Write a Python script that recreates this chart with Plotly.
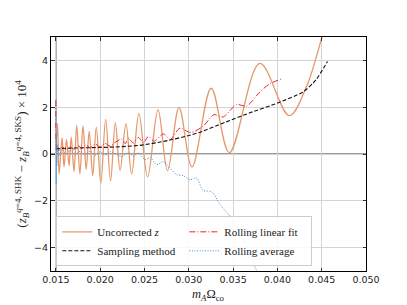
import plotly.graph_objects as go

# ---------------- data ----------------
# Uncorrected z (extrema of the oscillation + tail)
unc_x = [0.01500, 0.01519, 0.01536, 0.01570, 0.01592, 0.01620, 0.01649, 0.01673,
         0.01705, 0.01735, 0.01771, 0.01806, 0.01842, 0.01876, 0.01916, 0.01956,
         0.02007, 0.02062, 0.02117, 0.02171, 0.02225, 0.02291, 0.02355, 0.02437,
         0.02535, 0.02653, 0.02760, 0.02890, 0.03036, 0.03253, 0.03458, 0.03802,
         0.04134, 0.04328, 0.04440, 0.04503, 0.04556]
unc_y = [0.20, 1.30, -0.85, 0.70, -0.55, 0.62, -0.50, 0.72,
         -0.75, 1.22, -0.85, 1.20, -0.65, 0.97, -0.92, 1.15,
         -1.24, 1.48, -1.15, 1.34, -0.70, 1.30, -0.86, 1.74,
         -0.98, 1.89, -0.72, 1.99, -0.55, 2.81, 0.06, 3.87,
         1.64, 2.88, 4.16, 5.00, 5.70]

# Sampling method
samp_x = [0.01500, 0.01662, 0.01887, 0.02169, 0.02450, 0.02732, 0.02991, 0.03126,
          0.03407, 0.03689, 0.04004, 0.04286, 0.04400, 0.04442, 0.04566]
samp_y = [0.22, 0.25, 0.27, 0.30, 0.37, 0.55, 0.78, 0.93,
          1.35, 1.76, 2.18, 2.64, 3.02, 3.20, 3.95]

# Rolling linear fit
lin_x = [0.01500, 0.01508, 0.01527, 0.01572, 0.01617, 0.01662, 0.01707, 0.01752,
         0.01797, 0.01842, 0.01887, 0.01944, 0.02000, 0.02056, 0.02113, 0.02169,
         0.02244, 0.02282, 0.02319, 0.02375, 0.02431, 0.02488, 0.02544, 0.02611,
         0.02713, 0.02788, 0.02900, 0.03020, 0.03160, 0.03284, 0.03385, 0.03539,
         0.03652, 0.03802, 0.03914, 0.04057]
lin_y = [2.30, 0.30, 0.12, 0.30, 0.18, 0.30, 0.20, 0.35,
         0.24, 0.38, 0.27, 0.42, 0.30, 0.45, 0.33, 0.50,
         0.63, 0.45, 0.67, 0.47, 0.71, 0.48, 0.75, 0.55,
         0.86, 0.62, 1.10, 0.92, 1.18, 1.68, 1.58, 2.11,
         2.05, 2.65, 3.00, 3.22]

# Rolling average
avg_x = [0.01500, 0.01503, 0.01507, 0.01512, 0.01521, 0.01538, 0.01572, 0.01617,
         0.01662, 0.01718, 0.01775, 0.01831, 0.01887, 0.01944, 0.02000, 0.02056,
         0.02113, 0.02169, 0.02244, 0.02315, 0.02372, 0.02431, 0.02507, 0.02563,
         0.02638, 0.02713, 0.02769, 0.02864, 0.02935, 0.03014, 0.03089, 0.03160,
         0.03261, 0.03351, 0.03475, 0.03543, 0.03644, 0.03768, 0.03824]
avg_y = [2.20, -1.30, 0.90, -0.50, 0.40, -0.10, 0.20, 0.00,
         0.15, 0.00, 0.12, -0.05, 0.12, -0.05, 0.10, -0.05,
         0.10, 0.02, -0.10, 0.05, -0.08, 0.04, -0.24, -0.15,
         -0.46, -0.32, -0.53, -0.88, -0.92, -1.10, -1.03, -1.55,
         -1.62, -2.15, -2.72, -3.20, -3.90, -5.00, -5.40]

x_ticks = [0.015, 0.020, 0.025, 0.030, 0.035, 0.040, 0.045, 0.050]
x_tick_labels = ["0.015", "0.020", "0.025", "0.030", "0.035", "0.040", "0.045", "0.050"]
y_ticks = [-4, -2, 0, 2, 4]
y_tick_labels = ["\u22124", "\u22122", "0", "2", "4"]

# ---------------- figure ----------------
SERIF = "Liberation Serif"
SANS = "DejaVu Sans"

fig = go.Figure()
fig.add_trace(go.Scatter(x=unc_x, y=unc_y, mode="lines", name="Uncorrected <i>z</i>",
                         line=dict(color="#E6986C", width=1.3, shape="spline", smoothing=1.0),
                         legendrank=1))
fig.add_trace(go.Scatter(x=samp_x, y=samp_y, mode="lines", name="Sampling method",
                         line=dict(color="#111111", width=1.1, dash="4px,2px", shape="spline", smoothing=0.6),
                         legendrank=3))
fig.add_trace(go.Scatter(x=lin_x, y=lin_y, mode="lines", name="Rolling linear fit",
                         line=dict(color="#e3262b", width=1.0, dash="6px,2px,1px,2px", shape="spline", smoothing=0.8),
                         legendrank=2))
fig.add_trace(go.Scatter(x=avg_x, y=avg_y, mode="lines", name="Rolling average",
                         line=dict(color="#3b8ed6", width=1.0, dash="1px,1.6px", shape="spline", smoothing=0.8),
                         legendrank=4))

axis_common = dict(
    showline=True, linecolor="black", linewidth=1, mirror="ticks",
    ticks="inside", ticklen=3.5, tickwidth=1, tickcolor="#333",
    showgrid=True, gridcolor="#d4d4d4", gridwidth=1.4, zeroline=False,
    automargin=False,
    tickfont=dict(family=SANS, size=9.5, color="#222"),
)

fig.update_layout(
    width=407, height=305,
    margin=dict(l=51, r=41, t=37, b=34, pad=0, autoexpand=False),
    paper_bgcolor="white", plot_bgcolor="white",
    xaxis=dict(range=[0.01445, 0.0500], tickvals=x_ticks, ticktext=x_tick_labels, **axis_common),
    yaxis=dict(range=[-5, 5], tickvals=y_ticks, ticktext=y_tick_labels, **axis_common),
    showlegend=True,
    legend=dict(
        orientation="h", x=0.017, y=0.02, xanchor="left", yanchor="bottom",
        entrywidth=82, entrywidthmode="pixels",
        bgcolor="rgba(255,255,255,0.85)", bordercolor="#cccccc", borderwidth=1,
        font=dict(family=SERIF, size=11, color="#222"),
        tracegroupgap=0, itemwidth=30,
    ),
    shapes=[
        dict(type="line", xref="paper", yref="y", x0=0, x1=1, y0=0, y1=0,
             line=dict(color="#9a9a9a", width=1.8), layer="between"),
        dict(type="line", xref="x", yref="paper", x0=0.015, x1=0.015, y0=0, y1=1,
             line=dict(color="#9a9a9a", width=1.8), layer="between"),
    ],
    annotations=[
        dict(text="<i>m</i><sub><i>A</i></sub>\u03a9<sub>co</sub>", xref="paper", yref="paper",
             x=0.5, y=-0.103, xanchor="center", yanchor="middle", showarrow=False,
             font=dict(family=SERIF, size=12.5, color="#222")),
        dict(text="(<i>z</i><sub><i>B</i></sub><sup><i>q</i>=4, SHK</sup> \u2212 "
                  "<i>z</i><sub><i>B</i></sub><sup><i>q</i>=4, SKS</sup>) \u00d7 10<sup>4</sup>",
             xref="paper", yref="paper", x=-0.093, y=0.5, xanchor="center", yanchor="middle",
             textangle=-90, showarrow=False,
             font=dict(family=SERIF, size=13, color="#222")),
    ],
)

fig.write_html("out.html", config={"displayModeBar": False},
               post_script="document.body.style.margin='0';document.body.style.padding='0';")
